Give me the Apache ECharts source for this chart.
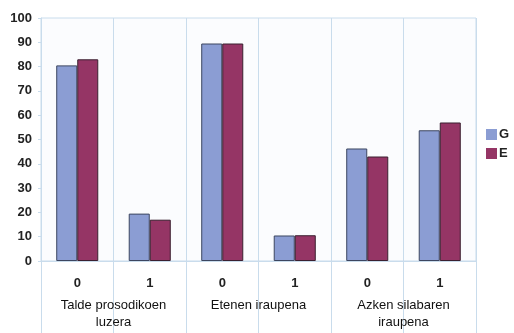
<!DOCTYPE html>
<html>
<head>
<meta charset="utf-8">
<script src="https://cdn.jsdelivr.net/npm/echarts@6/dist/echarts.min.js"></script>
<style>
  html, body { margin: 0; padding: 0; background: #ffffff; }
  #chart { width: 514px; height: 333px; }
</style>
</head>
<body>
<div id="chart"></div>
<script type="text/javascript">
    // datuak
    var categories = ['0', '1', '0', '1', '0', '1'];
    var groups = ['Talde prosodikoen\nluzera', 'Etenen iraupena', 'Azken silabaren\niraupena'];
    var valuesG = [80.5, 19.5, 89.5, 10.5, 46.3, 53.8];
    var valuesE = [83, 17, 89.5, 10.6, 43, 57];
    var yTicks = [0, 10, 20, 30, 40, 50, 60, 70, 80, 90, 100];

    var lineColor = '#c9dcec';
    var myChart = echarts.init(document.getElementById('chart'));

    var option = {
        backgroundColor: '#ffffff',
        animation: false,
        textStyle: { fontFamily: 'Liberation Sans, Arial, sans-serif' },
        legend: {
            orient: 'vertical',
            left: 481,
            top: 123,
            icon: 'rect',
            itemWidth: 11,
            itemHeight: 11,
            itemGap: 6,
            data: ['G', 'E'],
            itemStyle: { borderWidth: 0 },
            textStyle: { fontSize: 13, fontWeight: 'bold', color: '#222', padding: [0, 0, 0, -3] }
        },
        grid: {
            left: 41,
            right: 38,
            top: 18,
            bottom: 72,
            show: true,
            backgroundColor: '#fbfcfe',
            borderColor: lineColor,
            borderWidth: 1
        },
        xAxis: [
            {
                type: 'category',
                data: categories,
                axisLine: { lineStyle: { color: lineColor } },
                axisTick: { show: true, length: 72, lineStyle: { color: lineColor } },
                splitLine: { show: true, lineStyle: { color: lineColor } },
                axisLabel: { margin: 16, fontSize: 13, fontWeight: 'bold', color: '#222' }
            },
            {
                type: 'category',
                position: 'bottom',
                data: groups,
                axisLine: { show: false },
                axisTick: { show: false },
                axisLabel: { margin: 36, fontSize: 13, color: '#111', lineHeight: 17 }
            }
        ],
        yAxis: {
            type: 'value',
            min: yTicks[0],
            max: yTicks[yTicks.length - 1],
            interval: 10,
            axisLine: { show: true, lineStyle: { color: lineColor } },
            axisTick: { show: true, length: 3, lineStyle: { color: lineColor } },
            splitLine: { show: false },
            axisLabel: { margin: 9, fontSize: 13, fontWeight: 'bold', color: '#222' }
        },
        series: [
            {
                name: 'G',
                type: 'bar',
                xAxisIndex: 0,
                data: valuesG,
                barGap: '0%',
                barCategoryGap: '42%',
                itemStyle: { color: '#8b9dd3', borderColor: '#3c4660', borderWidth: 1 }
            },
            {
                name: 'E',
                type: 'bar',
                xAxisIndex: 0,
                data: valuesE,
                itemStyle: { color: '#953565', borderColor: '#3a2030', borderWidth: 1 }
            }
        ]
    };
    myChart.setOption(option);
</script>
</body>
</html>
